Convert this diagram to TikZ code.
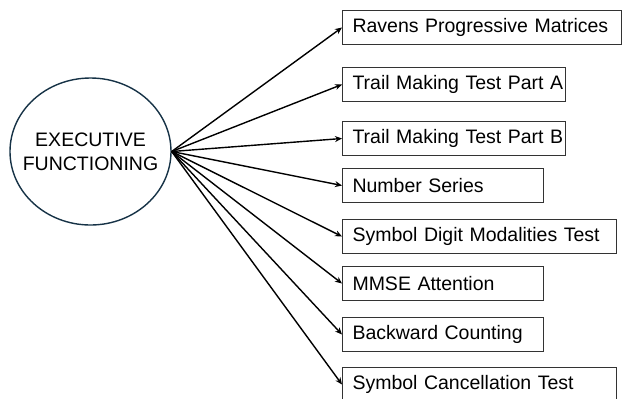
\documentclass[tikz,border=0pt]{standalone}
\usepackage{fontspec}
\setmainfont{Liberation Sans}
\usetikzlibrary{arrows.meta,shapes.geometric}
\definecolor{navy}{HTML}{163246}
\begin{document}
\begin{tikzpicture}[x=1bp,y=-1bp,
  every node/.style={font=\fontsize{19.5bp}{24bp}\selectfont},
  testbox/.style={draw=black!80, line width=1bp, minimum height=34bp, inner xsep=10bp, inner ysep=0bp, align=left, anchor=north west},
  conn/.style={line width=1.4bp, -{Stealth[length=7bp,width=6bp]}}]
\useasboundingbox (0,0) rectangle (622,398);
\node[draw=navy, line width=1.4bp, ellipse, minimum width=161bp, minimum height=147bp, inner sep=0pt] (ef) at (90.5,151.5) {};
\node[align=center, inner sep=0pt] (eftext) at (90.5,152) {EXECUTIVE\\FUNCTIONING};
\node[testbox, text width=259bp] (b1) at (342,10) {\mbox{Ravens Progressive Matrices}};
\node[testbox, text width=203bp] (b2) at (342,67) {\mbox{Trail Making Test Part A}};
\node[testbox, text width=203bp] (b3) at (342,121) {\mbox{Trail Making Test Part B}};
\node[testbox, text width=181bp] (b4) at (342,168) {\mbox{Number Series}};
\node[testbox, text width=254bp] (b5) at (342,219) {\mbox{Symbol Digit Modalities Test}};
\node[testbox, text width=181bp] (b6) at (342,266) {\mbox{MMSE Attention}};
\node[testbox, text width=181bp] (b7) at (342,317) {\mbox{Backward Counting}};
\node[testbox, text width=254bp] (b8) at (342,367) {\mbox{Symbol Cancellation Test}};
\foreach \b in {b1,b2,b3,b4,b5,b6,b7,b8}
  \draw[conn] (ef.east) -- (\b.west);
\end{tikzpicture}
\end{document}
